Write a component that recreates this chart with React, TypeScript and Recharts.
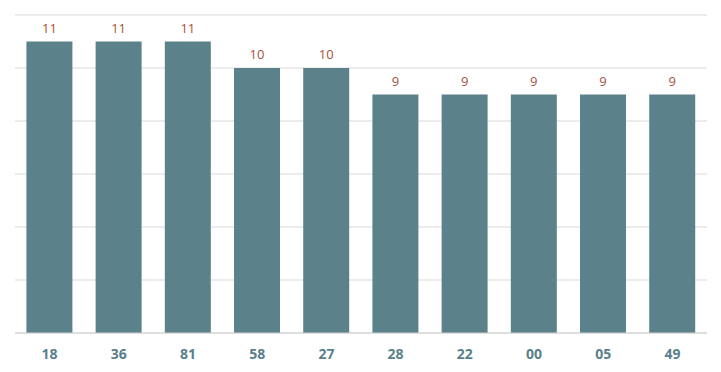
import React from "react";
import { BarChart, Bar, XAxis, YAxis, CartesianGrid, LabelList } from "recharts";

const categories = ["18", "36", "81", "58", "27", "28", "22", "00", "05", "49"];
const counts = [11, 11, 11, 10, 10, 9, 9, 9, 9, 9];
const yTicks = [0, 2, 4, 6, 8, 10, 12];

const data = categories.map((name, i) => ({ name, value: counts[i] }));

export default function App() {
  return (
    <div style={{ position: "absolute", left: 0, top: 0, width: 721, height: 372, background: "#fff" }}>
      <BarChart
        width={721}
        height={372}
        data={data}
        margin={{ top: 15, right: 14, bottom: 0, left: 15 }}
        barCategoryGap="16.5%"
      >
        <CartesianGrid horizontal vertical={false} stroke="#d9d9d9" />
        <YAxis hide domain={[0, 12]} ticks={yTicks} />
        <XAxis
          dataKey="name"
          height={39}
          axisLine={{ stroke: "#d0d0d0" }}
          tickLine={false}
          tick={{ fill: "#5a7f8c", fontSize: 14, fontWeight: 700, fontFamily: "Open Sans, sans-serif" }}
          tickMargin={10}
          interval={0}
        />
        <Bar dataKey="value" fill="#5b828b" isAnimationActive={false}>
          <LabelList
            dataKey="value"
            position="top"
            offset={9}
            style={{ fill: "#a9503a", fontSize: 13, fontFamily: "Open Sans, sans-serif" }}
          />
        </Bar>
      </BarChart>
    </div>
  );
}
